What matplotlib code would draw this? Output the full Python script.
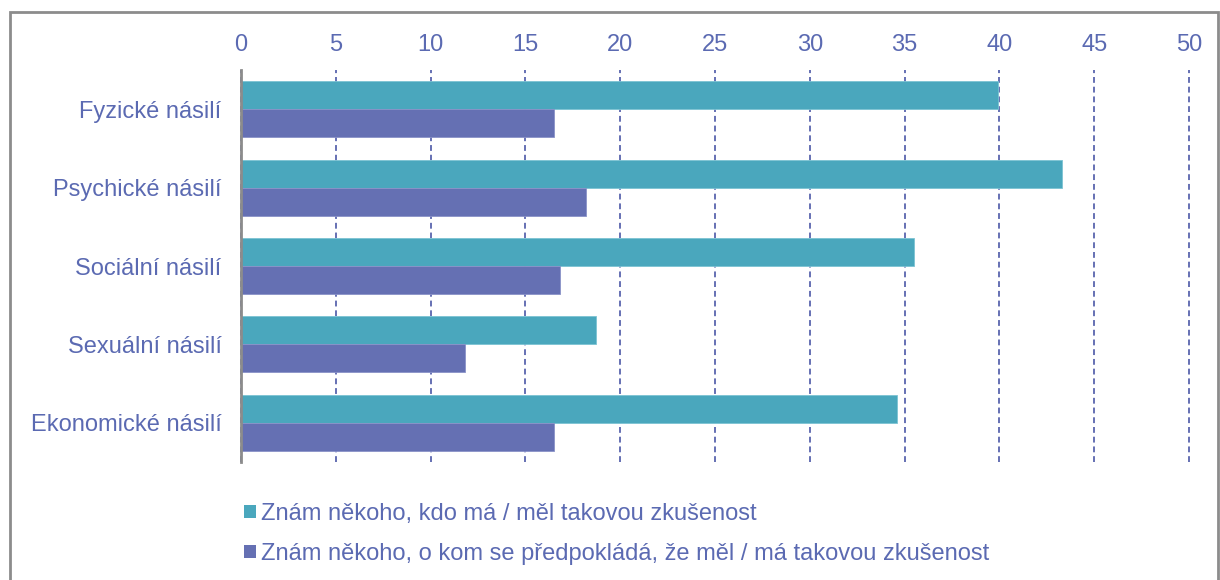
import matplotlib
import matplotlib.pyplot as plt
from matplotlib.patches import Patch, Rectangle
import numpy as np

matplotlib.use('Agg')

categories = ["Fyzické násilí", "Psychické násilí", "Sociální násilí", "Sexuální násilí", "Ekonomické násilí"]
known = [39.9, 43.3, 35.5, 18.7, 34.6]
assumed = [16.5, 18.2, 16.8, 11.8, 16.5]
series_labels = ["Znám někoho, kdo má / měl takovou zkušenost",
                 "Znám někoho, o kom se předpokládá, že měl / má takovou zkušenost"]
xticks = list(range(0, 55, 5))

teal = "#4AA7BD"
purple = "#6570B3"
text_col = "#5B6AB2"

plt.rcParams['font.family'] = ['Liberation Sans', 'DejaVu Sans']

fig = plt.figure(figsize=(12.2, 5.8), dpi=100)
ax = fig.add_axes([241/1220, 1-462/580, (1189-241)/1220, (462-70)/580])

y = np.arange(len(categories))
h = 0.357
ax.barh(y - h/2, known, height=h, color=teal, edgecolor="#7cc3d3", linewidth=0.6, zorder=3)
ax.barh(y + h/2, assumed, height=h, color=purple, edgecolor="#8a92c8", linewidth=0.6, zorder=3)

ax.set_ylim(len(categories) - 0.5, -0.5)
ax.set_xlim(0, 50)
ax.set_yticks(y)
ax.set_yticklabels(categories)
ax.set_xticks(xticks)
ax.xaxis.tick_top()
ax.tick_params(axis='both', length=0, labelsize=17, labelcolor=text_col)
ax.tick_params(axis='x', pad=10)
ax.tick_params(axis='y', pad=14)

for s in ["top", "right", "bottom"]:
    ax.spines[s].set_visible(False)
ax.spines["left"].set_color("#8c8c8c")
ax.spines["left"].set_linewidth(2)
ax.spines["left"].set_zorder(4)

ax.xaxis.grid(True, linestyle=(0, (3, 2)), color=purple, linewidth=1.4, zorder=1)
ax.set_axisbelow(True)
for gl in ax.get_xgridlines():
    gl.set_clip_on(False)

handles = [Patch(facecolor=teal, edgecolor='none'), Patch(facecolor=purple, edgecolor='none')]
fig.legend(handles, series_labels, loc="upper left", bbox_to_anchor=(244/1220, 1-503/580),
           frameon=False, fontsize=17, labelcolor=text_col, handlelength=0.5, handleheight=0.5,
           handletextpad=0.2, labelspacing=0.75, borderaxespad=0, borderpad=0)

fig.patches.append(Rectangle((10/1220, -0.05), (1218-10)/1220, 1-12/580+0.05,
                             transform=fig.transFigure, fill=False, edgecolor="#8c8c8c", linewidth=2))

fig.savefig("out.png", dpi=100)
